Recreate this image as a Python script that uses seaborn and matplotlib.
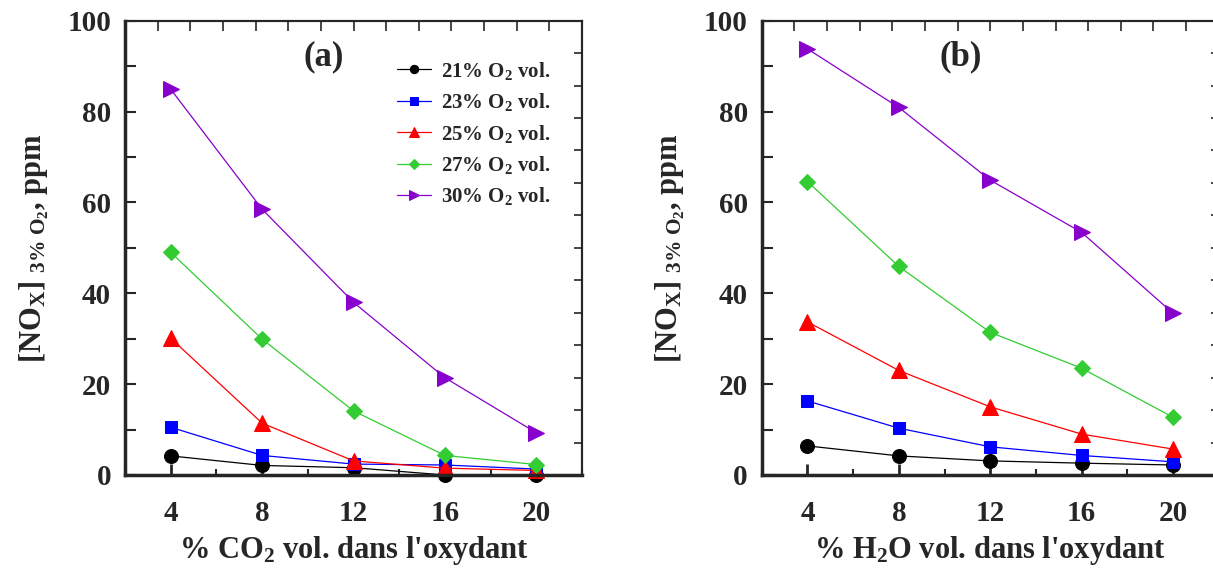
import numpy as np
import pandas as pd
import seaborn as sns
import matplotlib.pyplot as plt
from matplotlib.ticker import MultipleLocator

# Data
x_pct = [4, 8, 12, 16, 20]
o2_levels = ['21', '23', '25', '27', '30']

# (a) CO2 dilution
nox_co2_21 = [4.2, 2.1, 1.6, 0.0, 0.0]
nox_co2_23 = [10.5, 4.3, 2.4, 2.2, 1.3]
nox_co2_25 = [30.1, 11.4, 3.1, 1.5, 1.0]
nox_co2_27 = [49.0, 29.9, 14.1, 4.3, 2.3]
nox_co2_30 = [84.9, 58.5, 38.0, 21.4, 9.3]

# (b) H2O dilution
nox_h2o_21 = [6.4, 4.2, 3.1, 2.6, 2.2]
nox_h2o_23 = [16.3, 10.3, 6.2, 4.3, 2.9]
nox_h2o_25 = [33.7, 23.0, 15.0, 9.0, 5.7]
nox_h2o_27 = [64.6, 45.9, 31.4, 23.5, 12.7]
nox_h2o_30 = [93.8, 80.9, 64.9, 53.4, 35.6]

colors = ['black', '#0000ff', '#ff0000', '#33cc33', '#8800cc']
markers = ['o', 's', '^', 'D', '>']
msizes = [10, 9, 11, 8, 11]

sns.set_style('ticks')
plt.rcParams['font.family'] = ['Liberation Serif', 'DejaVu Serif']
plt.rcParams['font.weight'] = 'bold'
plt.rcParams['mathtext.fontset'] = 'custom'
plt.rcParams['mathtext.rm'] = 'Liberation Serif:bold'
plt.rcParams['mathtext.it'] = 'Liberation Serif:bold'
plt.rcParams['mathtext.bf'] = 'Liberation Serif:bold'


def build(series):
    rows = []
    for lev, vals in zip(o2_levels, series):
        for xv, yv in zip(x_pct, vals):
            rows.append({'x': xv, 'nox': yv, 'o2': lev})
    return pd.DataFrame(rows)


df_a = build([nox_co2_21, nox_co2_23, nox_co2_25, nox_co2_27, nox_co2_30])
df_b = build([nox_h2o_21, nox_h2o_23, nox_h2o_25, nox_h2o_27, nox_h2o_30])

fig = plt.figure(figsize=(12.13, 5.70), dpi=100)
ax_a = fig.add_axes([0.1031, 0.1667, 0.3767, 0.797])
ax_b = fig.add_axes([0.628, 0.1667, 0.3767, 0.797])


def draw(ax, df, xlabel, tag):
    for lev, c, m, ms in zip(o2_levels, colors, markers, msizes):
        sub = df[df['o2'] == lev]
        sns.lineplot(data=sub, x='x', y='nox', ax=ax, color=c, marker=m,
                     markersize=ms, markeredgecolor=c, linewidth=0.9,
                     label=lev + '% O$_2$ vol.', clip_on=False)
    ax.set_xlim(2, 22)
    ax.set_ylim(0, 100)
    ax.xaxis.set_major_locator(MultipleLocator(4))
    ax.xaxis.set_minor_locator(MultipleLocator(2))
    ax.yaxis.set_major_locator(MultipleLocator(20))
    ax.yaxis.set_minor_locator(MultipleLocator(10))
    ax.tick_params(axis='x', which='major', direction='in', length=8, width=2,
                   labelsize=21, pad=18)
    ax.tick_params(axis='x', which='minor', direction='in', length=4, width=1.5)
    ax.tick_params(axis='y', which='both', direction='in', length=8, width=1.5,
                   labelsize=21, pad=10)
    for side in ['left', 'bottom']:
        ax.spines[side].set_linewidth(2.5)
    for side in ['top', 'right']:
        ax.spines[side].set_linewidth(1.5)
    ax.set_xlabel(xlabel, fontsize=22, fontweight='bold', labelpad=5)
    ax.set_ylabel('[NO$_X$] $_{3\\%\\ O_2}$, ppm', fontsize=22,
                  fontweight='bold', labelpad=12)

    # top / right axes carry their own finer tick marks, no labels
    top = ax.secondary_xaxis('top')
    top.set_xticks(np.linspace(2, 22, 15))
    top.tick_params(direction='in', length=7, width=1.2, labeltop=False)
    top.spines['top'].set_linewidth(1.5)
    right = ax.secondary_yaxis('right')
    right.set_yticks(np.linspace(0, 100, 15))
    right.tick_params(direction='in', length=6, width=1.2, labelright=False)
    right.spines['right'].set_linewidth(1.5)

    ax.text(0.435, 0.92, tag, transform=ax.transAxes, ha='center',
            va='center', fontsize=25, fontweight='bold')


draw(ax_a, df_a, '% CO$_2$ vol. dans l\'oxydant', '(a)')
draw(ax_b, df_b, '% H$_2$O vol. dans l\'oxydant', '(b)')

ax_a.legend(loc='upper left', bbox_to_anchor=(0.596, 0.914), frameon=False,
            fontsize=15, markerscale=0.6, handlelength=1.6, handletextpad=0.5,
            labelspacing=0.45, borderpad=0, borderaxespad=0)
ax_b.get_legend().remove()

fig.savefig('out.png', dpi=100)
